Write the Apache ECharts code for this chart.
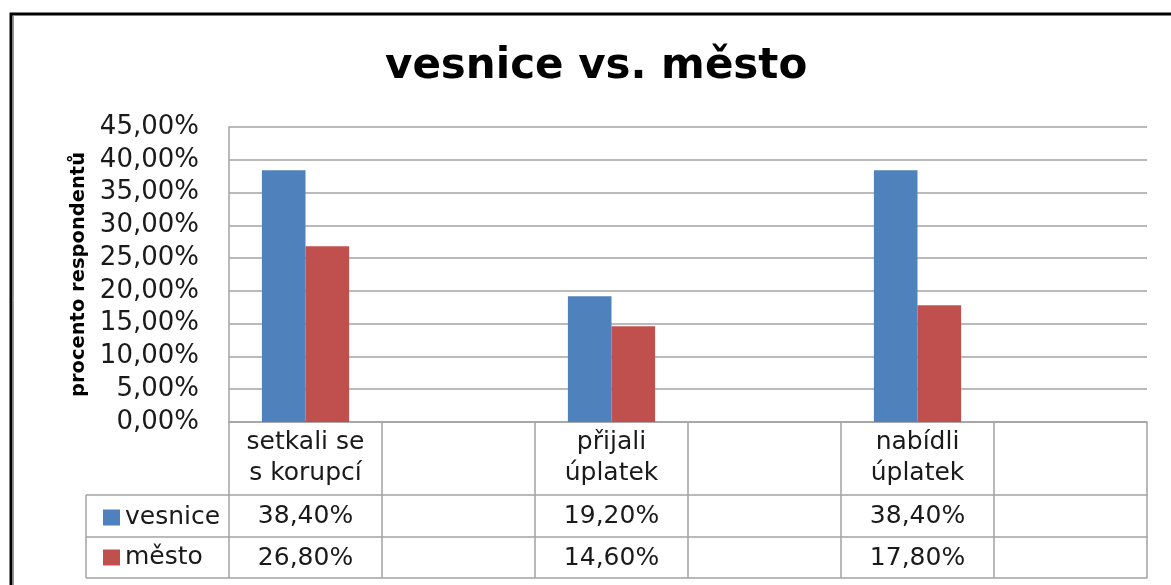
<!DOCTYPE html>
<html lang="cs">
<head>
    <meta charset="UTF-8">
    <title>vesnice vs. město</title>
    <script src="https://cdn.jsdelivr.net/npm/echarts@6/dist/echarts.min.js"></script>
    <style>
        html, body {margin: 0; padding: 0; background: #fff;}
        #main {width: 1171px; height: 585px;}
    </style>
</head>
<body>
<div id="main"></div>
<script>
    // data
    let categories = ['setkali se\ns korupcí', '', 'přijali\núplatek', '', 'nabídli\núplatek', ''];
    let vesnice = [38.4, null, 19.2, null, 38.4, null];
    let mesto = [26.8, null, 14.6, null, 17.8, null];
    let yTicks = [0, 5, 10, 15, 20, 25, 30, 35, 40, 45];

    let font = 'DejaVu Sans';
    let lineColor = '#a3a3a3';

    // plot area
    let gLeft = 229, gRight = 1147, gTop = 127, gBottom = 422;
    let rowTops = [495, 537, 578];
    let tableLeft = 86;

    let pct = v => v == null ? '' : v.toFixed(2).replace('.', ',') + '%';

    let myChart = echarts.init(document.getElementById('main'));

    // extra axes used as table rows
    let rowAxis = (offset, labels) => ({
        type: 'category',
        gridIndex: 0,
        position: 'bottom',
        offset: offset,
        data: labels,
        axisLine: {show: true, lineStyle: {color: lineColor, width: 1.5}},
        axisTick: {show: false},
        axisLabel: {
            show: labels.length > 0, interval: 0, margin: 6,
            fontFamily: font, fontSize: 25, lineHeight: 31, color: '#1a1a1a'
        }
    });

    let option = {
        animation: false,
        title: {
            text: 'vesnice vs. město',
            left: 380,
            top: 41,
            textStyle: {fontFamily: font, fontSize: 42, fontWeight: 'bold', color: '#000'}
        },
        legend: {
            orient: 'vertical',
            left: 98,
            top: 497,
            itemWidth: 17,
            itemHeight: 16,
            itemGap: 9,
            icon: 'rect',
            textStyle: {fontFamily: font, fontSize: 25, lineHeight: 31, color: '#1a1a1a'},
            data: ['vesnice', 'město']
        },
        grid: {
            left: gLeft,
            right: 1171 - gRight,
            top: gTop,
            bottom: 585 - gBottom,
            containLabel: false
        },
        xAxis: [
            {
                type: 'category',
                data: categories,
                axisLine: {show: true, lineStyle: {color: lineColor, width: 1.5}},
                axisTick: {
                    show: true, interval: 0,
                    length: rowTops[2] - gBottom,
                    lineStyle: {color: lineColor, width: 1.5}
                },
                axisLabel: {
                    interval: 0, margin: 5,
                    fontFamily: font, fontSize: 25, lineHeight: 31, color: '#1a1a1a'
                }
            },
            rowAxis(rowTops[0] - gBottom, vesnice.map(pct)),
            rowAxis(rowTops[1] - gBottom, mesto.map(pct)),
            rowAxis(rowTops[2] - gBottom, [])
        ],
        yAxis: {
            type: 'value',
            min: yTicks[0] / 100,
            max: yTicks[yTicks.length - 1] / 100,
            interval: 0.05,
            name: 'procento respondentů',
            nameLocation: 'middle',
            nameRotate: 90,
            nameGap: 140,
            nameTextStyle: {fontFamily: font, fontSize: 19.5, fontWeight: 'bold', color: '#000'},
            axisLine: {show: true, lineStyle: {color: lineColor, width: 1.5}},
            axisTick: {show: false},
            axisLabel: {
                margin: 30,
                fontFamily: font, fontSize: 26, color: '#1a1a1a',
                formatter: v => pct(v * 100)
            },
            splitLine: {lineStyle: {color: lineColor, width: 1.5}}
        },
        series: [
            {
                name: 'vesnice',
                type: 'bar',
                barGap: '0%',
                barCategoryGap: '43%',
                itemStyle: {color: '#4F81BD'},
                data: vesnice.map(v => v == null ? null : v / 100)
            },
            {
                name: 'město',
                type: 'bar',
                itemStyle: {color: '#C0504D'},
                data: mesto.map(v => v == null ? null : v / 100)
            }
        ],
        graphic: [
            // outer frame
            {type: 'rect', shape: {x: 11, y: 14, width: 1300, height: 700},
                style: {fill: null, stroke: '#000', lineWidth: 3}},
            {type: 'line', shape: {x1: 13.5, y1: 16, x2: 13.5, y2: 585},
                style: {stroke: '#999', lineWidth: 1}},
            // legend column of the data table
            {type: 'line', shape: {x1: tableLeft, y1: rowTops[0], x2: gLeft, y2: rowTops[0]},
                style: {stroke: lineColor, lineWidth: 1.5}},
            {type: 'line', shape: {x1: tableLeft, y1: rowTops[1], x2: gLeft, y2: rowTops[1]},
                style: {stroke: lineColor, lineWidth: 1.5}},
            {type: 'line', shape: {x1: tableLeft, y1: rowTops[2], x2: gLeft, y2: rowTops[2]},
                style: {stroke: lineColor, lineWidth: 1.5}},
            {type: 'line', shape: {x1: tableLeft, y1: rowTops[0], x2: tableLeft, y2: rowTops[2]},
                style: {stroke: lineColor, lineWidth: 1.5}}
        ]
    };
    myChart.setOption(option);
</script>
</body>
</html>
